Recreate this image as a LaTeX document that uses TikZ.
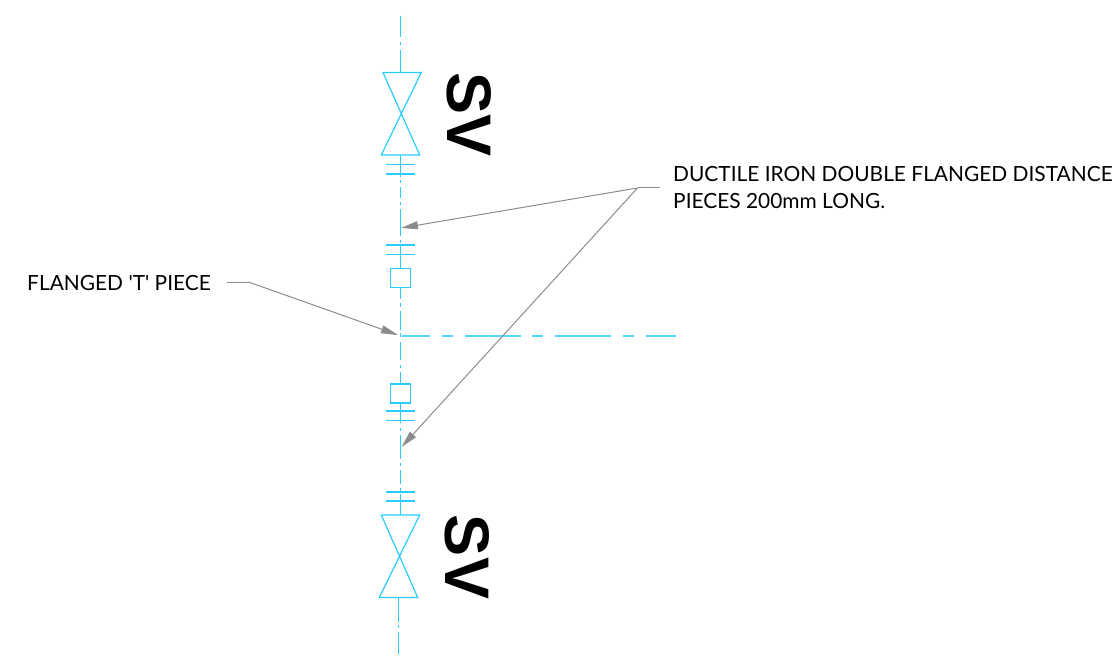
\documentclass[tikz,border=0pt]{standalone}
\usepackage{fontspec}
\usetikzlibrary{arrows.meta}
\newfontfamily\labelfont{Lato}
\newfontfamily\tagfont{Liberation Sans}[BoldFont={Liberation Sans Bold}]
\definecolor{pipe}{HTML}{29CCFF}
\definecolor{pipelight}{HTML}{55D6FF}
\definecolor{leader}{HTML}{8C8C8C}
\tikzset{
  pipeline/.style={draw=pipe,line width=1.2pt},
  centreline/.style={draw=pipelight,line width=1.2pt},
  leaderline/.style={draw=leader,line width=1pt},
  leadertip/.style={leaderline,-{Triangle[length=17pt,width=8pt,fill=leader]}},
  note/.style={anchor=base west,inner sep=0pt,font=\labelfont\fontsize{20.9}{26}\selectfont,text=black},
  tagtext/.style={inner sep=0pt,rotate=-90,font=\tagfont\bfseries\fontsize{63}{63}\selectfont,text=black}
}
\begin{document}
\begin{tikzpicture}[x=1pt,y=-1pt]
\useasboundingbox (0,0) rectangle (1112,658);
% vertical centre line
\foreach \a/\b in {16/37,42/45,50/72,155/177,180/183,187/198,202/205,209/236,240/243,246/268,287.5/299,303/307,311/330,333/337,342/360,365/368,372/384,403/423,428/431,435/459,463/466,470/484,488/491,494/515}
  \draw[pipeline] (400.3,\a) -- (400.3,\b);
\foreach \a/\b in {597.5/622,625/628,632/654}
  \draw[pipeline] (398.4,\a) -- (398.4,\b);
% horizontal centre line
\foreach \a/\b in {401.5/430,442/453,465/521,532/543,555/611,623/634,646/676}
  \draw[centreline] (\a,336) -- (\b,336);
% flanges
\foreach \y in {164.5,174,245,254.5,411,420.5,492,501}
  \draw[pipeline] (386,\y) -- (415,\y);
% boxes
\draw[pipeline] (390.5,268.5) rectangle (410.5,287.5);
\draw[pipeline] (390.5,384) rectangle (410.5,403);
% valves
\draw[pipeline] (383,72.5) -- (421.3,72.5) -- (381.3,155) -- (419.7,155) -- cycle;
\draw[pipeline] (381.3,515) -- (419.7,515) -- (379.3,597.5) -- (417.7,597.5) -- cycle;
% tags
\node[tagtext] (svtop) at (469,114.5) {SV};
\node[tagtext] (svbottom) at (467,557) {SV};
% notes
\node[note] (ductile) at (673,182) {DUCTILE IRON DOUBLE FLANGED DISTANCE};
\node[note] (pieces) at (673,208) {PIECES 200mm LONG.};
\node[note] (flanged) at (27,290) {FLANGED 'T' PIECE};
% leaders
\coordinate (dstart) at (660,188);
\coordinate (dknee) at (637.5,188);
\coordinate (dtipa) at (401,228);
\coordinate (dtipb) at (401.5,447);
\coordinate (fstart) at (226.5,282);
\coordinate (fknee) at (248.5,282);
\coordinate (ftip) at (398,335);
\draw[leaderline] (dstart) -- (dknee);
\draw[leadertip] (dknee) -- (dtipa);
\draw[leadertip] (dknee) -- (dtipb);
\draw[leaderline] (fstart) -- (fknee);
\draw[leadertip] (fknee) -- (ftip);
\end{tikzpicture}
\end{document}
